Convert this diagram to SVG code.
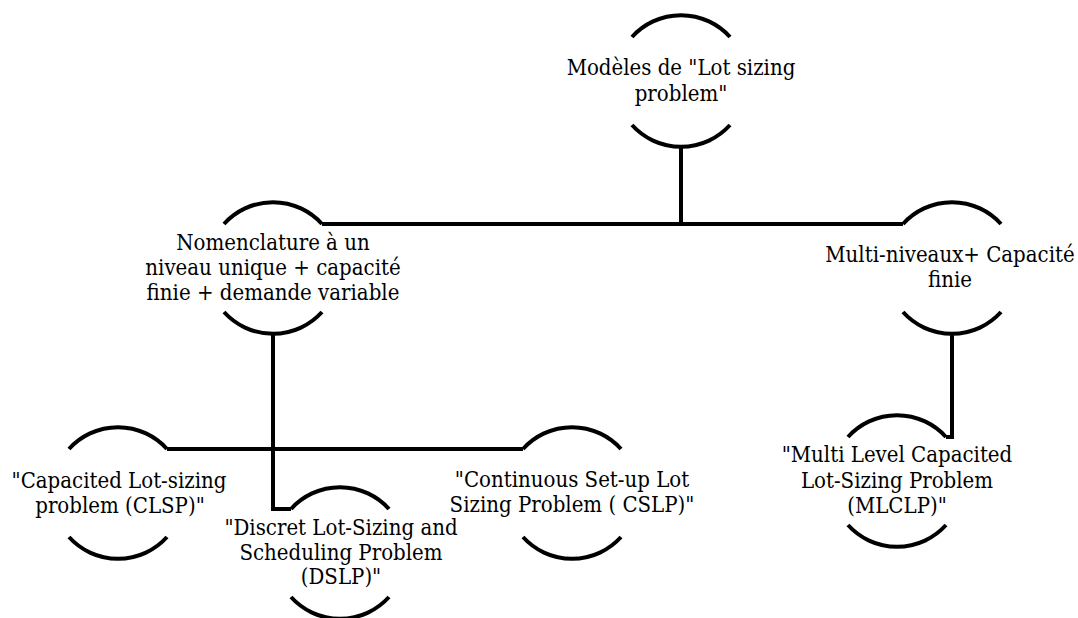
<svg xmlns="http://www.w3.org/2000/svg" width="1078" height="618" viewBox="0 0 1078 618">
<style>
.arc{fill:none;stroke:#000;stroke-width:4}
.con{fill:none;stroke:#000;stroke-width:4;stroke-linejoin:miter}
text{font-family:"DejaVu Serif Condensed","DejaVu Serif","Liberation Serif",serif;font-size:22px;fill:#000;text-anchor:middle}
</style>
<rect width="1078" height="618" fill="#fff"/>
<g id="connectors">
<path class="con" d="M681,147 V224"/>
<path class="con" d="M322,224 H903"/>
<path class="con" d="M273,334 V509 H291"/>
<path class="con" d="M167,449 H523"/>
<path class="con" d="M952,334 V437 H946"/>
</g>
<g id="n-root">
<path class="arc" d="M632,37 A66 66 0 0 1 730,37"/>
<path class="arc" d="M632,125 A66 66 0 0 0 730,125"/>
<text x="681" y="75">Modèles de "Lot sizing</text>
<text x="681" y="101">problem"</text>
</g>
<g id="n-nomenclature">
<path class="arc" d="M224,224 A66 66 0 0 1 322,224"/>
<path class="arc" d="M224,312 A66 66 0 0 0 322,312"/>
<text x="273" y="250">Nomenclature à un</text>
<text x="273" y="275">niveau unique + capacité</text>
<text x="273" y="300">finie + demande variable</text>
</g>
<g id="n-multi">
<path class="arc" d="M903,224 A66 66 0 0 1 1001,224"/>
<path class="arc" d="M903,312 A66 66 0 0 0 1001,312"/>
<text x="950" y="262">Multi-niveaux+ Capacité</text>
<text x="950" y="287">finie</text>
</g>
<g id="n-clsp">
<path class="arc" d="M69,449 A66 66 0 0 1 167,449"/>
<path class="arc" d="M69,537 A66 66 0 0 0 167,537"/>
<text x="119" y="488">"Capacited Lot-sizing</text>
<text x="120" y="513">problem (CLSP)"</text>
</g>
<g id="n-dslp">
<path class="arc" d="M291,509 A66 66 0 0 1 389,509"/>
<path class="arc" d="M291,597 A66 66 0 0 0 389,597"/>
<text x="341" y="535">"Discret Lot-Sizing and</text>
<text x="341" y="560">Scheduling Problem</text>
<text x="341" y="584">(DSLP)"</text>
</g>
<g id="n-cslp">
<path class="arc" d="M523,449 A66 66 0 0 1 621,449"/>
<path class="arc" d="M523,537 A66 66 0 0 0 621,537"/>
<text x="572" y="487">"Continuous Set-up Lot</text>
<text x="572" y="512">Sizing Problem ( CSLP)"</text>
</g>
<g id="n-mlclp">
<path class="arc" d="M848,437 A66 66 0 0 1 946,437"/>
<path class="arc" d="M848,525 A66 66 0 0 0 946,525"/>
<text x="897" y="462">"Multi Level Capacited</text>
<text x="897" y="488">Lot-Sizing Problem</text>
<text x="897" y="513">(MLCLP)"</text>
</g>
</svg>
